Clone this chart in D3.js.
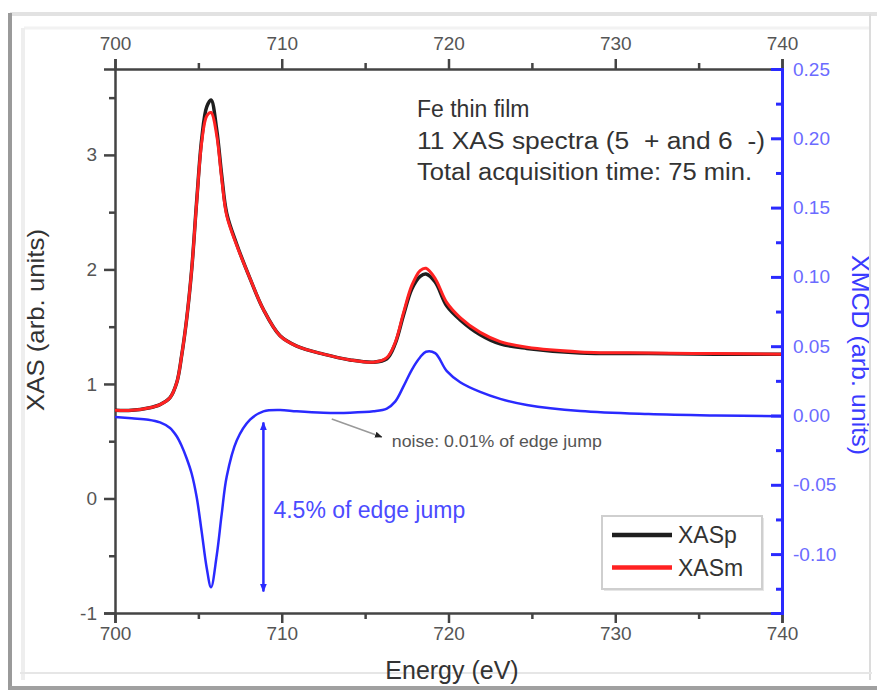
<!DOCTYPE html>
<html>
<head>
<meta charset="utf-8">
<script src="https://cdn.jsdelivr.net/npm/d3@7"></script>
<style>
  body { margin: 0; background: #fff; }
  text { font-family: "Liberation Sans", Arial, sans-serif; }
</style>
</head>
<body>
<div id="chart"></div>
<script>
// photon energy (eV)
const energy = [700, 701, 702, 702.7, 703.3, 703.7, 704.0, 704.3, 704.6, 704.9, 705.2, 705.5, 705.76,
  706.1, 706.4, 706.7, 707.3, 708.1, 708.9, 709.9, 710.9, 712.5, 714.1, 715.5, 716.3, 716.8, 717.3,
  717.8, 718.3, 718.65, 719.2, 719.9, 720.7, 721.9, 723.1, 724.7, 727.9, 732, 736, 740];

// XAS, plus helicity (black)
const xasP = [0.77, 0.77, 0.79, 0.82, 0.88, 1.01, 1.25, 1.57, 2.0, 2.6, 3.14, 3.42, 3.48,
  3.22, 2.82, 2.49, 2.22, 1.92, 1.65, 1.42, 1.33, 1.26, 1.21, 1.19, 1.22, 1.35, 1.60,
  1.83, 1.94, 1.96, 1.89, 1.68, 1.56, 1.43, 1.35, 1.31, 1.27, 1.265, 1.26, 1.26];

// XAS, minus helicity (red)
const xasM = [0.77, 0.77, 0.79, 0.82, 0.88, 1.01, 1.25, 1.57, 2.0, 2.59, 3.11, 3.34, 3.37,
  3.17, 2.79, 2.47, 2.21, 1.92, 1.65, 1.42, 1.33, 1.26, 1.21, 1.19, 1.23, 1.36, 1.62,
  1.86, 1.99, 2.01, 1.92, 1.71, 1.58, 1.45, 1.37, 1.32, 1.28, 1.27, 1.265, 1.26];

// XMCD (blue, right axis)
const xmcd = [-0.001, -0.002, -0.003, -0.005, -0.009, -0.015, -0.022, -0.031, -0.042, -0.059, -0.084, -0.11, -0.124,
  -0.101, -0.071, -0.044, -0.018, -0.003, 0.003, 0.004, 0.003, 0.002, 0.002, 0.003, 0.005, 0.01, 0.021,
  0.033, 0.042, 0.046, 0.045, 0.032, 0.024, 0.017, 0.012, 0.0076, 0.0032, 0.001, 0.0, -0.0005];

const xTicks = [700, 710, 720, 730, 740];
const xMinor = [705, 715, 725, 735];
const yTicks = [-1, 0, 1, 2, 3];
const yMinor = [-0.5, 0.5, 1.5, 2.5, 3.5];
const y2Ticks = [-0.10, -0.05, 0.00, 0.05, 0.10, 0.15, 0.20, 0.25];
const y2Minor = [-0.125, -0.075, -0.025, 0.025, 0.075, 0.125, 0.175, 0.225];

const infoLines = ["Fe thin film", "11 XAS spectra (5  + and 6  -)", "Total acquisition time: 75 min."];
const legendItems = [{ name: "XASp", color: "#1e1e1e" }, { name: "XASm", color: "#ff2222" }];

const width = 877, height = 690;
const margin = { top: 69, right: 95, bottom: 77, left: 115 };

const svg = d3.select("#chart").append("svg")
  .attr("width", width)
  .attr("height", height);

const x = d3.scaleLinear().domain([700, 740]).range([margin.left, width - margin.right]);
const y = d3.scaleLinear().domain([-1, 3.75]).range([height - margin.bottom, margin.top]);
const y2 = d3.scaleLinear().domain([-0.1425, 0.25]).range([height - margin.bottom, margin.top]);

const data = energy.map((e, i) => ({ e, p: xasP[i], m: xasM[i], d: xmcd[i] }));

// axes
function styleAxis(g, color, w, labelColor) {
  g.select(".domain").attr("stroke", color).attr("stroke-width", w);
  g.selectAll(".tick line").attr("stroke", color).attr("stroke-width", w);
  g.selectAll(".tick text").attr("fill", labelColor).attr("font-size", 19)
    .attr("font-family", "Liberation Sans, Arial, sans-serif");
}

const gx = svg.append("g")
  .attr("transform", `translate(0,${height - margin.bottom})`)
  .call(d3.axisBottom(x).tickValues(xTicks).tickSize(10).tickPadding(4).tickFormat(d3.format("d")));
styleAxis(gx, "#444", 2.5, "#555");
svg.append("g")
  .attr("transform", `translate(0,${height - margin.bottom})`)
  .call(d3.axisBottom(x).tickValues(xMinor).tickSize(6).tickFormat(""))
  .call(g => { g.select(".domain").remove(); g.selectAll("line").attr("stroke", "#444").attr("stroke-width", 2.5); });

const gxt = svg.append("g")
  .attr("transform", `translate(0,${margin.top})`)
  .call(d3.axisTop(x).tickValues(xTicks).tickSize(10).tickPadding(9).tickFormat(d3.format("d")));
styleAxis(gxt, "#444", 2.5, "#555");
svg.append("g")
  .attr("transform", `translate(0,${margin.top})`)
  .call(d3.axisTop(x).tickValues(xMinor).tickSize(6).tickFormat(""))
  .call(g => { g.select(".domain").remove(); g.selectAll("line").attr("stroke", "#444").attr("stroke-width", 2.5); });

const gy = svg.append("g")
  .attr("transform", `translate(${margin.left},0)`)
  .call(d3.axisLeft(y).tickValues(yTicks).tickSize(11).tickPadding(7).tickFormat(d3.format("d")));
styleAxis(gy, "#444", 2.5, "#555");
gy.selectAll(".tick text").text(d => d < 0 ? "-" + Math.abs(d) : d);
svg.append("g")
  .attr("transform", `translate(${margin.left},0)`)
  .call(d3.axisLeft(y).tickValues(yMinor).tickSize(6).tickFormat(""))
  .call(g => { g.select(".domain").remove(); g.selectAll("line").attr("stroke", "#444").attr("stroke-width", 2.5); });

// curves
const curve = d3.curveCatmullRom.alpha(0.5);
const lineP = d3.line().x(d => x(d.e)).y(d => y(d.p)).curve(curve);
const lineM = d3.line().x(d => x(d.e)).y(d => y(d.m)).curve(curve);
const lineD = d3.line().x(d => x(d.e)).y(d => y2(d.d)).curve(curve);

svg.append("path").datum(data).attr("d", lineP)
  .attr("fill", "none").attr("stroke", legendItems[0].color).attr("stroke-width", 3.5);
svg.append("path").datum(data).attr("d", lineM)
  .attr("fill", "none").attr("stroke", legendItems[1].color).attr("stroke-width", 3);
svg.append("path").datum(data).attr("d", lineD)
  .attr("fill", "none").attr("stroke", "#2a2aff").attr("stroke-width", 2.5);

// right axis (XMCD), ticks pointing inward
const gy2 = svg.append("g")
  .attr("transform", `translate(${width - margin.right},0)`)
  .call(d3.axisRight(y2).tickValues(y2Ticks).tickSize(-11).tickPadding(11).tickFormat(d => d.toFixed(2)));
styleAxis(gy2, "#2a2aff", 3, "#6b6bff");
svg.append("g")
  .attr("transform", `translate(${width - margin.right},0)`)
  .call(d3.axisRight(y2).tickValues(y2Minor).tickSize(-6).tickFormat(""))
  .call(g => { g.select(".domain").remove(); g.selectAll("line").attr("stroke", "#2a2aff").attr("stroke-width", 3); });

// arrow markers
const defs = svg.append("defs");
defs.append("marker").attr("id", "arrBlue").attr("viewBox", "0 0 10 10").attr("refX", 9).attr("refY", 5)
  .attr("markerWidth", 3.5).attr("markerHeight", 3.5).attr("orient", "auto-start-reverse")
  .append("path").attr("d", "M0,1L10,5L0,9Z").attr("fill", "#2a2aff");
defs.append("marker").attr("id", "arrGray").attr("viewBox", "0 0 10 10").attr("refX", 9).attr("refY", 5)
  .attr("markerWidth", 5).attr("markerHeight", 5).attr("orient", "auto")
  .append("path").attr("d", "M0,1L10,5L0,9Z").attr("fill", "#222");

// edge jump double arrow
const jumpE = 708.9, jumpTop = -0.005, jumpBottom = -0.127;
svg.append("line")
  .attr("x1", x(jumpE)).attr("x2", x(jumpE))
  .attr("y1", y2(jumpTop)).attr("y2", y2(jumpBottom))
  .attr("stroke", "#2a2aff").attr("stroke-width", 2.5)
  .attr("marker-start", "url(#arrBlue)").attr("marker-end", "url(#arrBlue)");
svg.append("text")
  .attr("x", x(709.5)).attr("y", 518)
  .attr("font-size", 23).attr("fill", "#4b4bff")
  .text("4.5% of edge jump");

// noise pointer
const noiseFrom = [713.0, -0.0025], noiseTo = [716.0, -0.0155];
svg.append("line")
  .attr("x1", x(noiseFrom[0])).attr("y1", y2(noiseFrom[1]))
  .attr("x2", x(noiseTo[0])).attr("y2", y2(noiseTo[1]))
  .attr("stroke", "#999").attr("stroke-width", 1.5)
  .attr("marker-end", "url(#arrGray)");
svg.append("text")
  .attr("x", x(716.6)).attr("y", 447)
  .attr("font-size", 16).attr("fill", "#555")
  .attr("textLength", 210).attr("lengthAdjust", "spacingAndGlyphs")
  .text("noise: 0.01% of edge jump");

// info text block
const infoWidths = [null, 348, 335];
infoLines.forEach((t, i) => {
  const tx = svg.append("text")
    .attr("x", 417).attr("y", 117 + i * 31.5)
    .attr("font-size", 23).attr("fill", "#333")
    .style("white-space", "pre")
    .text(t);
  if (infoWidths[i]) tx.attr("textLength", infoWidths[i]).attr("lengthAdjust", "spacingAndGlyphs");
});

// legend
const legend = svg.append("g").attr("transform", "translate(602,516)");
legend.append("rect").attr("x", 2).attr("y", 2).attr("width", 160).attr("height", 73).attr("fill", "#e6e6e6");
legend.append("rect").attr("width", 160).attr("height", 73)
  .attr("fill", "#fff").attr("stroke", "#cfcfcf").attr("stroke-width", 2);
legendItems.forEach((d, i) => {
  legend.append("line").attr("x1", 10).attr("x2", 70)
    .attr("y1", 19 + i * 32.5).attr("y2", 19 + i * 32.5)
    .attr("stroke", d.color).attr("stroke-width", 4.5);
  legend.append("text").attr("x", 76).attr("y", 27 + i * 32.5)
    .attr("font-size", 23).attr("fill", "#333").text(d.name);
});

// axis titles
svg.append("text")
  .attr("transform", "translate(44,320) rotate(-90)")
  .attr("text-anchor", "middle").attr("font-size", 24).attr("fill", "#333")
  .attr("textLength", 182).attr("lengthAdjust", "spacingAndGlyphs")
  .text("XAS (arb. units)");
svg.append("text")
  .attr("transform", "translate(852,355) rotate(90)")
  .attr("text-anchor", "middle").attr("font-size", 24).attr("fill", "#3a3aff")
  .attr("textLength", 200).attr("lengthAdjust", "spacingAndGlyphs")
  .text("XMCD (arb. units)");

// window frame around the figure
const frame = svg.append("g");
frame.append("line").attr("x1", 10).attr("x2", 877).attr("y1", 14).attr("y2", 14).attr("stroke", "#e2e2e2").attr("stroke-width", 4);
frame.append("line").attr("x1", 24).attr("x2", 870).attr("y1", 28).attr("y2", 28).attr("stroke", "#f2f2f2").attr("stroke-width", 3);
frame.append("line").attr("x1", 10).attr("x2", 10).attr("y1", 13).attr("y2", 690).attr("stroke", "#9a9a9a").attr("stroke-width", 4);
frame.append("line").attr("x1", 23).attr("x2", 23).attr("y1", 28).attr("y2", 680).attr("stroke", "#eeeeee").attr("stroke-width", 4);
frame.append("line").attr("x1", 870).attr("x2", 870).attr("y1", 14).attr("y2", 680).attr("stroke", "#dcdcdc").attr("stroke-width", 2);
frame.append("line").attr("x1", 20).attr("x2", 872).attr("y1", 673).attr("y2", 673).attr("stroke", "#e6e6e6").attr("stroke-width", 2);
frame.append("line").attr("x1", 10).attr("x2", 877).attr("y1", 688).attr("y2", 688).attr("stroke", "#a0a0a0").attr("stroke-width", 4);

// x title drawn over the frame so it stays whole
svg.append("text")
  .attr("x", 452).attr("y", 679)
  .attr("text-anchor", "middle").attr("font-size", 25).attr("fill", "#333")
  .text("Energy (eV)");
</script>
</body>
</html>
